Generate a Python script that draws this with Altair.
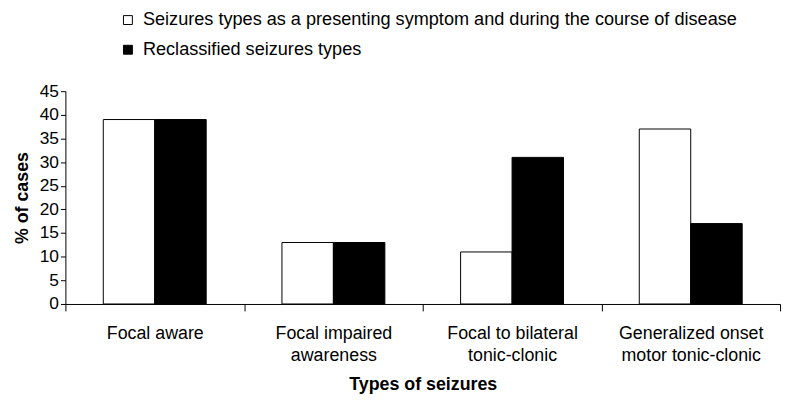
import altair as alt
import pandas as pd

categories = [
    "Focal aware",
    "Focal impaired\nawareness",
    "Focal to bilateral\ntonic-clonic",
    "Generalized onset\nmotor tonic-clonic",
]
series = [
    "Seizures types as a presenting symptom and during the course of disease",
    "Reclassified seizures types",
]
presenting = [39, 13, 11, 37]
reclassified = [39, 13, 31, 17]

rows = []
for c, a, b in zip(categories, presenting, reclassified):
    rows.append({"cat": c, "series": series[0], "value": a})
    rows.append({"cat": c, "series": series[1], "value": b})
df = pd.DataFrame(rows)

FONT = "Liberation Sans"

chart = alt.Chart(df).mark_bar(stroke="black", strokeWidth=1).encode(
    x=alt.X(
        "cat:N",
        sort=categories,
        scale=alt.Scale(paddingInner=0, paddingOuter=0),
        axis=alt.Axis(
            title="Types of seizures",
            labelAngle=0,
            labelExpr="split(datum.label, '\\n')",
            labelLineHeight=22,
            labelFontSize=18,
            labelPadding=14,
            tickBand="extent",
            tickSize=7,
            tickColor="black",
            domainColor="black",
            labelColor="black",
            titleFontSize=18,
            titleFontWeight="bold",
            titlePadding=11,
            titleColor="black",
            grid=False,
        ),
    ),
    xOffset=alt.XOffset(
        "series:N",
        sort=series,
        scale=alt.Scale(paddingInner=0, paddingOuter=0.736),
    ),
    y=alt.Y(
        "value:Q",
        scale=alt.Scale(domain=[0, 45]),
        axis=alt.Axis(
            title="% of cases",
            values=list(range(0, 50, 5)),
            tickSize=5,
            tickColor="black",
            domainColor="black",
            labelColor="black",
            labelFontSize=17.5,
            labelPadding=2,
            titleFontSize=18,
            titleFontWeight="bold",
            titlePadding=8,
            titleColor="black",
            grid=False,
        ),
    ),
    color=alt.Color(
        "series:N",
        sort=series,
        scale=alt.Scale(domain=series, range=["white", "black"]),
        legend=alt.Legend(
            title=None,
            orient="none",
            legendX=54,
            legendY=-81,
            symbolType="square",
            symbolSize=81,
            symbolStrokeColor="black",
            symbolStrokeWidth=1,
            labelFontSize=18.3,
            labelColor="black",
            labelLimit=0,
            rowPadding=11,
            labelOffset=6,
        ),
    ),
).properties(
    width=722,
    height=215,
    autosize=alt.AutoSizeParams(type="none"),
    padding={"left": 58, "top": 82, "right": 6, "bottom": 97},
).configure(font=FONT).configure_view(stroke=None).configure_axis(
    labelFont=FONT, titleFont=FONT
).configure_legend(labelFont=FONT)

chart.save("out.html", embed_options={"renderer": "svg", "actions": False})
